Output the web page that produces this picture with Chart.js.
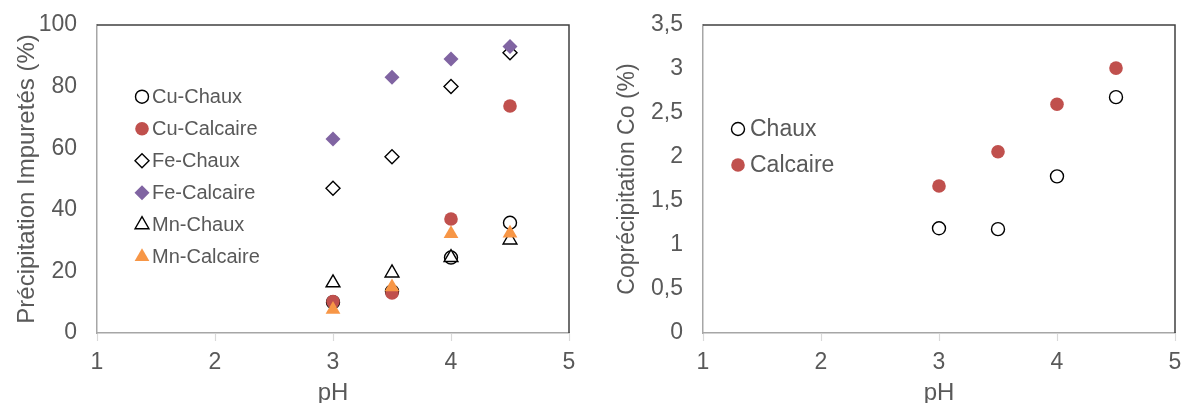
<!DOCTYPE html>
<html>
<head>
<meta charset="utf-8">
<script src="https://cdn.jsdelivr.net/npm/chart.js@4.4.1/dist/chart.umd.min.js"></script>
<style>
  html, body { margin: 0; padding: 0; background: #ffffff; }
  #wrap { position: relative; width: 1184px; height: 403px; overflow: hidden; }
  .box { position: absolute; top: 0; height: 403px; }
</style>
</head>
<body>
<div id="wrap">
  <div class="box" style="left:0;width:600px;"><canvas id="c1"></canvas></div>
  <div class="box" style="left:600px;width:584px;"><canvas id="c2"></canvas></div>
</div>
<script>
// ---------- DATA ----------
const phValues = [3, 3.5, 4, 4.5];
const xTickLabels = ['1', '2', '3', '4', '5'];

const seriesNames1 = ['Cu-Chaux', 'Cu-Calcaire', 'Fe-Chaux', 'Fe-Calcaire', 'Mn-Chaux', 'Mn-Calcaire'];
const cuChaux    = [10, 13.5, 24.5, 35.8];
const cuCalcaire = [10.2, 13, 37, 73.7];
const feChaux    = [47, 57.2, 80, 91];
const feCalcaire = [63, 83, 89, 93];
const mnChaux    = [16.3, 19.5, 24.5, 30.2];
const mnCalcaire = [7.6, 14.9, 32.2, 32.4];
const yTickLabels1 = ['0', '20', '40', '60', '80', '100'];

const seriesNames2 = ['Chaux', 'Calcaire'];
const coChaux    = [1.19, 1.18, 1.78, 2.68];
const coCalcaire = [1.67, 2.06, 2.60, 3.01];
const yTickLabels2 = ['0', '0,5', '1', '1,5', '2', '2,5', '3', '3,5'];

// ---------- STYLE ----------
const FONT = '"Liberation Sans", Arial, sans-serif';
const TXT = '#595959';
const RED = '#C0504D', PURPLE = '#8064A2', ORANGE = '#F79646';

function pts(arr) { return arr.map((v, i) => ({ x: phValues[i], y: v })); }

function mk(label, data, style, fill, radius, n, i) {
  const hollow = fill === null;
  return {
    label, data: pts(data),
    pointStyle: style,
    pointRadius: radius,
    pointHoverRadius: radius,
    pointBackgroundColor: hollow ? '#ffffff' : fill,
    pointBorderColor: hollow ? '#000000' : fill,
    pointBorderWidth: hollow ? 1.4 : 0,
    showLine: false,
    order: n - i
  };
}

const frame = {
  id: 'frame',
  beforeDatasetsDraw(chart) {
    // small light tick marks below the x axis
    const { ctx, chartArea: a, scales } = chart;
    ctx.save();
    ctx.strokeStyle = '#d9d9d9';
    ctx.lineWidth = 1.2;
    scales.x.ticks.forEach(t => {
      const px = Math.round(scales.x.getPixelForValue(t.value)) + 0.5;
      ctx.beginPath();
      ctx.moveTo(px, a.bottom + 1);
      ctx.lineTo(px, a.bottom + 8);
      ctx.stroke();
    });
    ctx.restore();
  },
  afterDatasetsDraw(chart) {
    const { ctx, chartArea: a } = chart;
    ctx.save();
    ctx.lineWidth = 1.5;
    ctx.strokeStyle = '#404040';
    ctx.beginPath();
    ctx.moveTo(a.left, a.top);
    ctx.lineTo(a.right, a.top);
    ctx.lineTo(a.right, a.bottom);
    ctx.stroke();
    ctx.restore();
  }
};

const innerLegend = {
  id: 'innerLegend',
  afterDraw(chart, args, opts) {
    const { ctx } = chart;
    ctx.save();
    ctx.font = opts.fontSize + 'px ' + FONT;
    ctx.fillStyle = TXT;
    ctx.textBaseline = 'middle';
    ctx.textAlign = 'left';
    chart.data.datasets.forEach((ds, i) => {
      const y = opts.y + i * opts.gap;
      ctx.save();
      ctx.fillStyle = ds.pointBackgroundColor;
      ctx.strokeStyle = ds.pointBorderColor;
      ctx.lineWidth = ds.pointBorderWidth;
      Chart.helpers.drawPoint(ctx, {
        pointStyle: ds.pointStyle, radius: ds.pointRadius, rotation: 0,
        borderWidth: ds.pointBorderWidth
      }, opts.x, y);
      ctx.restore();
      ctx.fillStyle = TXT;
      ctx.fillText(ds.label, opts.x + opts.textOffset, y + 1);
    });
    ctx.restore();
  }
};

function makeChart(id, datasets, cfg) {
  return new Chart(document.getElementById(id), {
    type: 'scatter',
    data: { datasets },
    plugins: [frame, innerLegend],
    options: {
      responsive: true,
      maintainAspectRatio: false,
      animation: false,
      events: [],
      layout: { padding: { top: 25, right: cfg.rightPad, left: 0, bottom: 0 } },
      plugins: {
        legend: { display: false },
        tooltip: { enabled: false },
        innerLegend: cfg.legend
      },
      scales: {
        x: {
          type: 'linear', min: 1, max: 5,
          afterFit(s) { s.height = 70; },
          ticks: {
            stepSize: 1, padding: 0, color: TXT,
            font: { family: FONT, size: 23 },
            callback: (v, i) => xTickLabels[i]
          },
          grid: { drawOnChartArea: false, drawTicks: true, tickLength: 16, tickColor: 'rgba(0,0,0,0)' },
          border: { display: true, color: '#a6a6a6', width: 1.5 },
          title: {
            display: true, text: 'pH', color: TXT,
            font: { family: FONT, size: 24, lineHeight: 0.8 },
            padding: { top: 0, bottom: 0 }
          }
        },
        y: {
          type: 'linear', min: 0, max: cfg.yMax,
          afterFit(s) { s.width = cfg.yWidth; },
          ticks: {
            stepSize: cfg.yStep, padding: 0, color: TXT,
            font: { family: FONT, size: 23 },
            callback: (v, i) => cfg.yLabels[i]
          },
          grid: { drawOnChartArea: false, drawTicks: true, tickLength: 20, tickColor: 'rgba(0,0,0,0)' },
          border: { display: true, color: '#a6a6a6', width: 1.5 },
          title: {
            display: true, text: cfg.yTitle, color: TXT,
            font: { family: FONT, size: cfg.yTitleSize, lineHeight: 1 },
            padding: { top: cfg.yTitlePad, bottom: 0 }
          }
        }
      }
    }
  });
}

const ds1 = [
  mk(seriesNames1[0], cuChaux,    'circle',  null,   6.5, 6, 0),
  mk(seriesNames1[1], cuCalcaire, 'circle',  RED,    6.8, 6, 1),
  mk(seriesNames1[2], feChaux,    'rectRot', null,   7,   6, 2),
  mk(seriesNames1[3], feCalcaire, 'rectRot', PURPLE, 7.5, 6, 3),
  mk(seriesNames1[4], mnChaux,    'triangle', null,  8,   6, 4),
  mk(seriesNames1[5], mnCalcaire, 'triangle', ORANGE, 8.5, 6, 5)
];
makeChart('c1', ds1, {
  rightPad: 31, yWidth: 97, yMax: 100, yStep: 20, yLabels: yTickLabels1,
  yTitle: 'Précipitation Impuretés (%)', yTitleSize: 24, yTitlePad: 15,
  legend: { x: 142, y: 96.7, gap: 32, textOffset: 10, fontSize: 20 }
});

const ds2 = [
  mk(seriesNames2[0], coChaux,    'circle', null, 6.5, 2, 0),
  mk(seriesNames2[1], coCalcaire, 'circle', RED,  6.8, 2, 1)
];
makeChart('c2', ds2, {
  rightPad: 9, yWidth: 103, yMax: 3.5, yStep: 0.5, yLabels: yTickLabels2,
  yTitle: 'Coprécipitation Co (%)', yTitleSize: 23, yTitlePad: 16,
  legend: { x: 138, y: 129, gap: 36, textOffset: 12, fontSize: 23 }
});
</script>
</body>
</html>
